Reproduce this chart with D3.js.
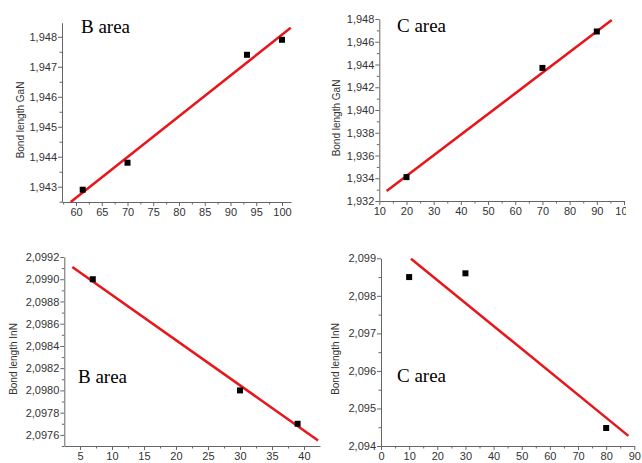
<!DOCTYPE html>
<html>
<head>
<meta charset="utf-8">
<script src="https://cdn.jsdelivr.net/npm/d3@7"></script>
<style>
  body { margin: 0; background: #fff; }
  .tick text { font-family: "Liberation Sans", Arial, sans-serif; font-size: 11px; fill: #333; }
  .domain, .tick line { stroke: #666; }
</style>
</head>
<body>
<div id="chart"></div>
<script>
// Data
// B area, GaN
const bGaNX = [61.3, 70, 93.2, 100];
const bGaNY = [1.9429, 1.9438, 1.9474, 1.9479];
const bGaNFitX = [58.97, 101.7];
const bGaNFitY = [1.94249, 1.9483];
const bGaNXTicks = [60, 65, 70, 75, 80, 85, 90, 95, 100];
const bGaNYTicks = [1.943, 1.944, 1.945, 1.946, 1.947, 1.948];

// C area, GaN
const cGaNX = [20, 70, 90];
const cGaNY = [1.9341, 1.9437, 1.9469];
const cGaNFitX = [12.7, 95.5];
const cGaNFitY = [1.93288, 1.94791];
const cGaNXTicks = [10, 20, 30, 40, 50, 60, 70, 80, 90, 100];
const cGaNYTicks = [1.932, 1.934, 1.936, 1.938, 1.940, 1.942, 1.944, 1.946, 1.948];

// B area, InN
const bInNX = [7, 30, 39];
const bInNY = [2.0990, 2.0980, 2.0977];
const bInNFitX = [3.8, 42.2];
const bInNFitY = [2.09911, 2.09755];
const bInNXTicks = [5, 10, 15, 20, 25, 30, 35, 40];
const bInNYTicks = [2.0976, 2.0978, 2.0980, 2.0982, 2.0984, 2.0986, 2.0988, 2.0990, 2.0992];

// C area, InN
const cInNX = [10, 30, 80];
const cInNY = [2.0985, 2.0986, 2.09448];
const cInNFitX = [10.66, 87.9];
const cInNFitY = [2.09899, 2.09427];
const cInNXTicks = [0, 10, 20, 30, 40, 50, 60, 70, 80, 90];
const cInNYTicks = [2.094, 2.095, 2.096, 2.097, 2.098, 2.099];

const W = 642, H = 463;

const panels = [
  { x: bGaNX, y: bGaNY, fx: bGaNFitX, fy: bGaNFitY, xt: bGaNXTicks, yt: bGaNYTicks,
    xd: [57.28, 101.75], xr: [62, 291], yd: [1.94249, 1.94847], yr: [202, 22.7],
    xMinor: 2.5, yMinor: 0.0005, dec: 3, ylab: "Bond length GaN", labX: 20, labY: 120,
    area: "B area", ax: 81, ay: 33, clip: null },
  { x: cGaNX, y: cGaNY, fx: cGaNFitX, fy: cGaNFitY, xt: cGaNXTicks, yt: cGaNYTicks,
    xd: [10, 100], xr: [379.3, 624], yd: [1.932, 1.948], yr: [201, 19],
    xMinor: 5, yMinor: 0.001, dec: 3, ylab: "Bond length GaN", labX: 336, labY: 118,
    area: "C area", ax: 397, ay: 32, clip: 626 },
  { x: bInNX, y: bInNY, fx: bInNFitX, fy: bInNFitY, xt: bInNXTicks, yt: bInNYTicks,
    xd: [2.55, 42.5], xr: [64.3, 320], yd: [2.0975, 2.0992], yr: [446, 257],
    xMinor: 2.5, yMinor: 0.0001, dec: 4, ylab: "Bond length InN", labX: 13.5, labY: 359,
    area: "B area", ax: 78, ay: 382.5, clip: null },
  { x: cInNX, y: cInNY, fx: cInNFitX, fy: cInNFitY, xt: cInNXTicks, yt: cInNYTicks,
    xd: [0, 90], xr: [381, 634.3], yd: [2.094, 2.099], yr: [446, 258.3],
    xMinor: 5, yMinor: 0.0005, dec: 3, ylab: "Bond length InN", labX: 335, labY: 359,
    area: "C area", ax: 397, ay: 381.5, clip: null }
];

const svg = d3.select("#chart")
    .append("svg")
    .attr("width", W)
    .attr("height", H);

svg.append("defs").append("clipPath")
    .attr("id", "clipRight")
    .append("rect")
    .attr("x", 321).attr("y", 0).attr("width", 305).attr("height", 231);

panels.forEach(p => {
    const g = svg.append("g");
    if (p.clip) g.attr("clip-path", "url(#clipRight)");

    const x = d3.scaleLinear().domain(p.xd).range(p.xr);
    const y = d3.scaleLinear().domain(p.yd).range(p.yr);
    const fmt = v => d3.format("." + p.dec + "f")(v).replace(".", ",");

    const yBase = p.yr[0], xBase = p.xr[0];

    // minor ticks
    const xm = d3.range(p.xt[0] - p.xMinor, p.xd[1], p.xMinor * 2)
        .filter(v => v >= p.xd[0] && v <= p.xd[1]);
    const ym = d3.range(p.yt[0] - p.yMinor, p.yd[1], p.yMinor * 2)
        .filter(v => v >= p.yd[0] - 1e-9 && v <= p.yd[1] + 1e-9);

    g.append("g")
        .attr("transform", `translate(0,${yBase})`)
        .call(d3.axisBottom(x).tickValues(xm).tickSize(2.5).tickFormat(""))
        .call(a => a.select(".domain").remove());
    g.append("g")
        .attr("transform", `translate(${xBase},0)`)
        .call(d3.axisLeft(y).tickValues(ym).tickSize(2.5).tickFormat(""))
        .call(a => a.select(".domain").remove());

    // major axes
    g.append("g")
        .attr("transform", `translate(0,${yBase})`)
        .call(d3.axisBottom(x).tickValues(p.xt).tickSize(4).tickSizeOuter(0).tickPadding(2).tickFormat(d3.format("d")));
    g.append("g")
        .attr("transform", `translate(${xBase},0)`)
        .call(d3.axisLeft(y).tickValues(p.yt).tickSize(4).tickSizeOuter(0).tickPadding(1).tickFormat(fmt));

    // axis title
    g.append("text")
        .attr("transform", `translate(${p.labX},${p.labY}) rotate(-90)`)
        .attr("text-anchor", "middle")
        .attr("dominant-baseline", "central")
        .style("font-family", "'Liberation Sans', Arial, sans-serif")
        .style("font-size", "10px")
        .style("fill", "#333")
        .text(p.ylab);

    // fit line
    const fit = p.fx.map((v, i) => [v, p.fy[i]]);
    g.append("path")
        .datum(fit)
        .attr("fill", "none")
        .attr("stroke", "#e8161b")
        .attr("stroke-width", 2.5)
        .attr("d", d3.line().x(d => x(d[0])).y(d => y(d[1])));

    // points
    const pts = p.x.map((v, i) => [v, p.y[i]]);
    g.selectAll(".pt")
        .data(pts)
        .enter()
        .append("rect")
        .attr("class", "pt")
        .attr("x", d => x(d[0]) - 3)
        .attr("y", d => y(d[1]) - 3)
        .attr("width", 6)
        .attr("height", 6)
        .attr("fill", "#000");

    // area label
    g.append("text")
        .attr("x", p.ax)
        .attr("y", p.ay)
        .style("font-family", "'Liberation Serif', 'Times New Roman', serif")
        .style("font-size", "19px")
        .style("fill", "#000")
        .text(p.area);
});
</script>
</body>
</html>
